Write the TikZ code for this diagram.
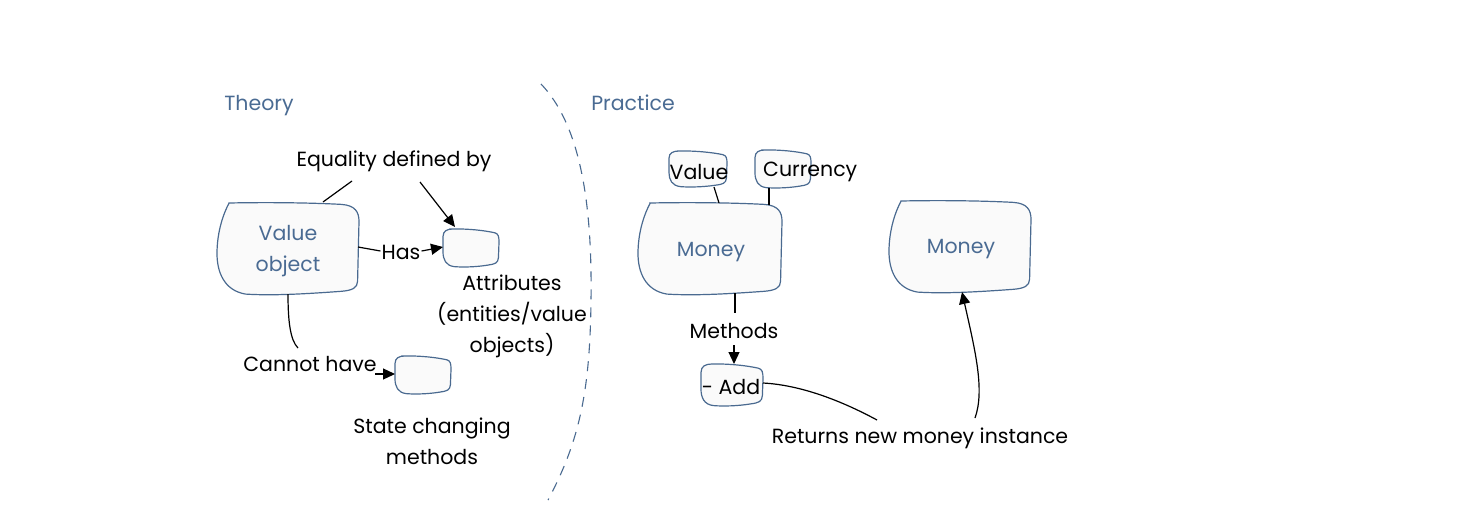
\documentclass[tikz,border=0pt]{standalone}
\usepackage{fontspec}
\setmainfont{Poppins}
\usetikzlibrary{arrows.meta,calc}
\definecolor{bluetxt}{HTML}{4A6B93}
\definecolor{blueline}{HTML}{4A6A90}
\definecolor{blobfill}{HTML}{FAFAFA}
\tikzset{
  blobline/.style={draw=blueline,fill=blobfill,line width=1.2pt},
  boxnode/.style={inner sep=0pt,outer sep=0pt,rectangle},
  lbl/.style={font=\fontsize{20.5}{31}\selectfont,align=center,inner sep=1pt,yshift=-2pt},
  bluelbl/.style={lbl,text=bluetxt},
  conn/.style={line width=1.2pt,black},
  arr/.style={conn,-{Triangle[length=12pt,width=11pt]}},
}
\newcommand\bigblob[5]{%
  \begin{scope}[shift={(#2,#3)},xscale=#4,yscale=#5]
    \path[blobline] (-0.83,-1) .. controls (-0.2,-1.02) and (0.4,-1.0) .. (0.75,-0.97)
      .. controls (0.95,-0.95) and (1,-0.8) .. (1,-0.6) -- (0.98,0.7)
      .. controls (0.98,0.85) and (0.9,0.9) .. (0.75,0.92)
      .. controls (0.3,0.97) and (-0.2,1.02) .. (-0.6,0.98)
      .. controls (-0.9,0.9) and (-1,0.5) .. (-1,0.1)
      .. controls (-1,-0.4) and (-0.9,-0.8) .. cycle;
  \end{scope}
  \node[boxnode,minimum width={#4*2pt},minimum height={#5*2pt}] (#1) at (#2,#3) {};}
\newcommand\smallblob[5]{%
  \begin{scope}[shift={(#2,#3)},xscale=#4,yscale=#5]
    \path[blobline] (-0.65,-1) .. controls (-0.1,-1.02) and (0.5,-0.92) .. (0.85,-0.8)
      .. controls (0.98,-0.75) and (1,-0.6) .. (1,-0.3) -- (0.98,0.5)
      .. controls (0.97,0.8) and (0.85,0.85) .. (0.6,0.9)
      .. controls (0.2,1.0) and (-0.3,1.02) .. (-0.6,0.98)
      .. controls (-0.9,0.93) and (-1,0.6) .. (-1,0.2) -- (-1,-0.6)
      .. controls (-1,-0.9) and (-0.85,-1) .. cycle;
  \end{scope}
  \node[boxnode,minimum width={#4*2pt},minimum height={#5*2pt}] (#1) at (#2,#3) {};}
\begin{document}
\begin{tikzpicture}[x=1pt,y=-1pt]
\useasboundingbox (0,0) rectangle (1482,522);
% headings
\node[bluelbl] (theory) at (259,104) {Theory};
\node[bluelbl] (practice) at (633,101) {Practice};
% divider
\coordinate (d1) at (541,84);
\coordinate (d2) at (591,300);
\coordinate (d3) at (548,500);
\draw[blueline,line width=1.1pt,dash pattern=on 10pt off 8pt] (d1) .. controls (585,130) and (592,220) .. (d2) .. controls (590,390) and (580,440) .. (d3);
% ---------- Theory ----------
\bigblob{vo}{288}{249}{71}{46}
\node[bluelbl] (votext) at (288,249) {Value\\object};
\smallblob{attr}{471}{248}{28}{19}
\smallblob{state}{423}{375}{28}{19}
\node[lbl] (eq) at (394,159) {Equality defined by};
\node[lbl] (has) at (401,250) {Has};
\node[lbl] (attrl) at (512,314) {Attributes\\(entities/value\\objects)};
\node[lbl] (cannot) at (310,362) {Cannot have};
\node[lbl] (statel) at (432,439) {State changing\\methods};
\coordinate (eqa) at (352,181);
\coordinate (eqb) at (420,182);
\draw[conn] (eqa) -- ($(vo.north)+(35,-1)$);
\draw[arr] (eqb) -- ($(attr.north)+(-16,-2)$);
\draw[conn] ($(vo.east)+(-1,-2)$) -- ($(has.west)+(0,-1)$);
\draw[arr] ($(has.east)+(0,-1)$) -- ($(attr.west)+(0,-1)$);
\coordinate (cantop) at (298,348);
\draw[conn] ($(vo.south)+(0,-1)$) .. controls (288,320) and (290,340) .. (cantop);
\coordinate (canend) at (375,374);
\draw[arr] (canend) -- ($(state.west)+(0,-1)$);
% ---------- Practice ----------
\bigblob{money}{710}{249}{72}{46}
\node[bluelbl] (moneyt) at (711,250) {Money};
\bigblob{money2}{960}{247}{71}{46}
\node[bluelbl] (money2t) at (961,247) {Money};
\smallblob{valb}{698}{169}{29}{18}
\node[lbl,inner sep=0pt] (valt) at (699,170) {Value};
\smallblob{curb}{783}{169}{28}{19}
\node[lbl,inner sep=0pt,anchor=west] (curt) at (763,170) {Currency};
\smallblob{addb}{732}{385}{31}{21}
\node[lbl,inner sep=0pt] (addt) at (731,385) {- Add};
\node[lbl] (methods) at (734,329) {Methods};
\node[lbl] (returns) at (920,436) {Returns new money instance};
\draw[conn] ($(valb.south)+(16,0)$) -- ($(money.north)+(9,0)$);
\draw[conn] ($(curb.south)+(-14,0)$) -- ($(money.north)+(59,2)$);
\coordinate (mtop) at (735,313);
\coordinate (mbot) at (734,345);
\draw[conn] ($(money.south)+(25,-2)$) -- (mtop);
\draw[arr] (mbot) -- ($(addb.north)+(2,0)$);
\coordinate (rl) at (877,420);
\coordinate (rr) at (975,418);
\draw[conn] ($(addb.east)+(0,-2)$) .. controls (800,385) and (840,400) .. (rl);
\draw[arr] (rr) .. controls (985,390) and (975,350) .. ($(money2.south)+(2,-1)$);
\end{tikzpicture}
\end{document}
